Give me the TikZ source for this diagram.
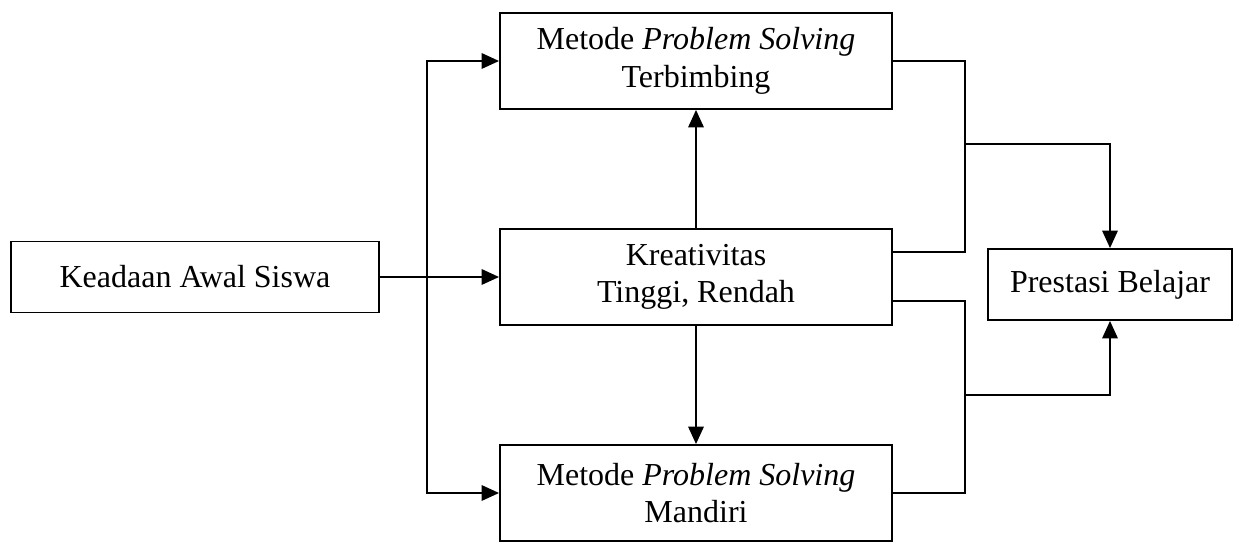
\documentclass[tikz,border=0pt]{standalone}
\usepackage{fontspec}
\setmainfont{Liberation Serif}
\usetikzlibrary{arrows.meta}
\begin{document}
\begin{tikzpicture}[x=0.75pt,y=-0.75pt,
  box/.style={draw,line width=1.4pt,inner sep=0pt,align=center,
    font=\fontsize{24}{28}\selectfont},
  conn/.style={line width=1.4pt},
  arr/.style={line width=1.4pt,-{Triangle[length=13pt,width=11.5pt]}}]
\useasboundingbox (0,0) rectangle (1234,548);
\node[box,minimum width=276pt,minimum height=53.25pt] (awal) at (195,277) {Keadaan Awal Siswa};
\node[box,minimum width=294pt,minimum height=72pt] (top) at (696,61) {Metode \textit{Problem Solving}\\Terbimbing};
\node[box,minimum width=294pt,minimum height=72pt] (mid) at (696,277) {Kreativitas\\Tinggi, Rendah};
\node[box,minimum width=294pt,minimum height=72pt] (bot) at (696,493) {Metode \textit{Problem Solving}\\Mandiri};
\node[box,minimum width=183pt,minimum height=53.25pt] (pres) at (1110,284.5) {Prestasi Belajar};
% left distribution
\coordinate (vl) at (427,277);
\draw[arr] (awal.east) -- (mid.west);
\draw[arr] (vl) |- (top.west);
\draw[arr] (vl) |- (bot.west);
% vertical arrows
\draw[arr] (mid.north) -- (top.south);
\draw[arr] (mid.south) -- (bot.north);
% right upper junction
\coordinate (m1) at (892,252);
\coordinate (ju) at (965,144);
\draw[conn] (top.east) -| (ju) |- (m1);
\draw[arr] (ju) -| (pres.north);
% right lower junction
\coordinate (m2) at (892,301);
\coordinate (jl) at (965,395);
\draw[conn] (m2) -| (jl) |- (bot.east);
\draw[arr] (jl) -| (pres.south);
\end{tikzpicture}
\end{document}
